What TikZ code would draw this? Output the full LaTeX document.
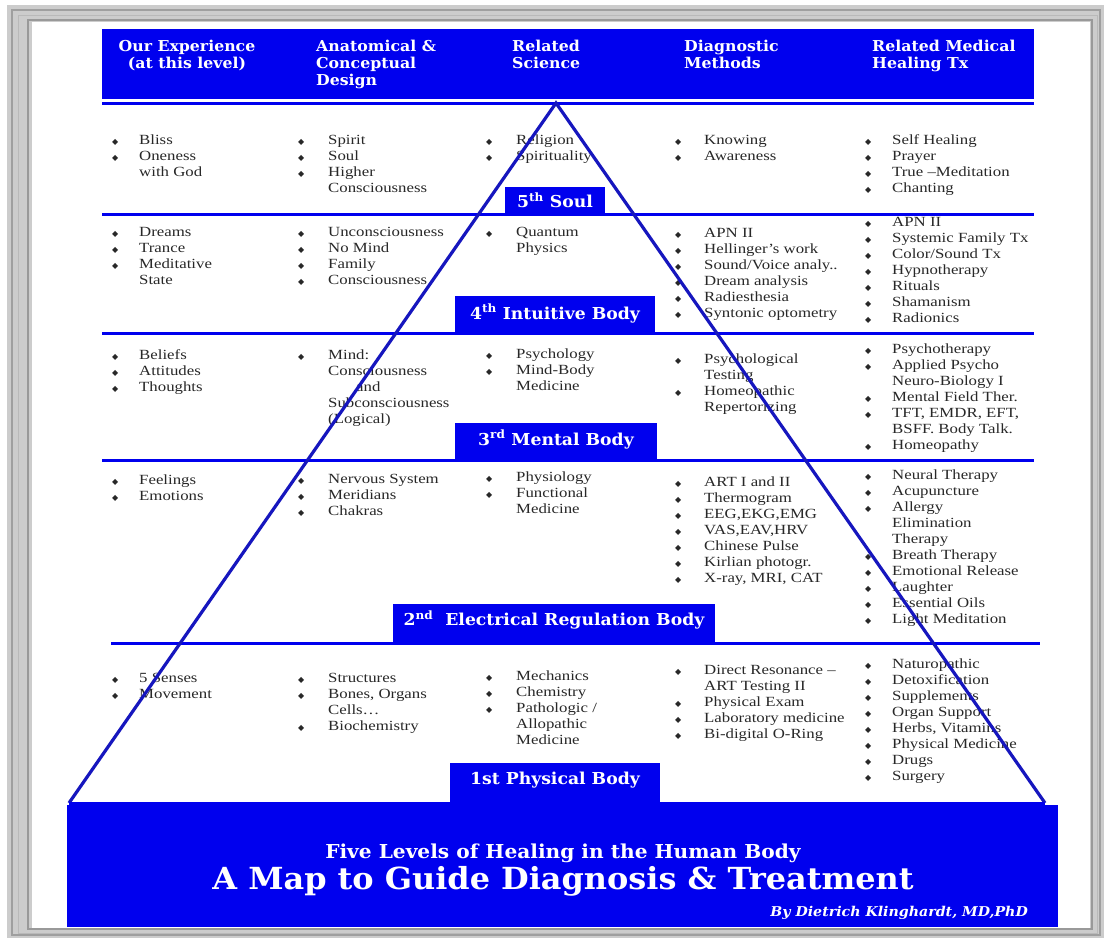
\documentclass[tikz,border=0pt]{standalone}
\usepackage{fontspec}
\setmainfont{Liberation Serif}[FakeStretch=1.2]
\newfontfamily\hdfont{DejaVu Serif}[FakeStretch=1.05]
\newfontfamily\symfont{DejaVu Sans}
\definecolor{bb}{RGB}{0,0,238}
\definecolor{tri}{RGB}{22,22,190}
\definecolor{txt}{RGB}{40,40,40}
\newcommand\bl{\raisebox{0.3pt}{\symfont\fontsize{8}{8}\selectfont ◆}}
\newcommand\itm[1]{\bl&#1\\}
\newcommand\cnt[1]{&#1\\}
\newcommand\lstbox[2]{\begin{tabular}{@{}p{#1pt}@{}l@{}}#2\end{tabular}}
\tikzset{
  lst/.style={anchor=north west, inner sep=0pt, font=\fontsize{14}{16}\selectfont, text=txt},
  hd/.style={inner sep=0pt, font=\hdfont\bfseries\fontsize{15}{17}\selectfont, text=white},
  lvltext/.style={inner sep=0pt, font=\hdfont\bfseries\fontsize{16.4}{18}\selectfont, text=white},
  sepline/.style={draw=bb, line width=3pt},
  boxfill/.style={fill=bb},
  tril/.style={draw=tri, line width=3.2pt, line join=miter}
}
\begin{document}
\begin{tikzpicture}[x=1pt,y=-1pt]
\useasboundingbox (0,0) rectangle (1106,940);
% frame
\fill[white] (0,0) rectangle (1106,940);
\fill[gray!40] (7,5) rectangle (1104,938);
\draw[gray!75, line width=1.5pt] (12,10) rectangle (1100,935);
\draw[gray!55, line width=1pt] (18,15) rectangle (1097,933);
\draw[gray!80, line width=2pt] (28,20) rectangle (1092,929);
\fill[white] (32,22) rectangle (1090,928);
% header band
\fill[boxfill] (102,29) rectangle (1034,99);
\draw[sepline] (102,103) -- (1034,103);
\node[hd, anchor=north, align=center] (h1) at (187,40) {Our Experience\\(at this level)};
\node[hd, anchor=north west, align=left] (h2) at (316,40) {Anatomical \&\\Conceptual\\Design};
\node[hd, anchor=north west, align=left] (h3) at (512,40) {Related\\Science};
\node[hd, anchor=north west, align=left] (h4) at (684,40) {Diagnostic\\Methods};
\node[hd, anchor=north west, align=left] (h5) at (872,40) {Related Medical\\Healing Tx};
% separators
\draw[sepline] (102,214) -- (1034,214);
\draw[sepline] (102,333) -- (1034,333);
\draw[sepline] (102,460) -- (1034,460);
\draw[sepline] (111,643) -- (1040,643);
% level boxes
\fill[boxfill] (505,187) rectangle (605,215);
\node[lvltext] (v5) at (555,200.5) {5\textsuperscript{th} Soul};
\fill[boxfill] (455,296) rectangle (655,334);
\node[lvltext] (v4) at (555,313.5) {4\textsuperscript{th} Intuitive Body};
\fill[boxfill] (455,423) rectangle (657,461);
\node[lvltext] (v3) at (556,439.5) {3\textsuperscript{rd} Mental Body};
\fill[boxfill] (393,604) rectangle (715,644);
\node[lvltext] (v2) at (554,620) {2\textsuperscript{nd}\ \ Electrical Regulation Body};
\fill[boxfill] (450,763) rectangle (660,804);
\node[lvltext] (v1) at (555,780) {1st Physical Body};
% title box
\fill[boxfill] (67,805) rectangle (1058,927);
\node[inner sep=0pt, text=white, font=\hdfont\bfseries\fontsize{19.2}{21}\selectfont] (t1) at (563,853) {Five Levels of Healing in the Human Body};
\node[inner sep=0pt, text=white, font=\hdfont\bfseries\fontsize{30.4}{32}\selectfont] (t2) at (563,881) {A Map to Guide Diagnosis \& Treatment};
\node[inner sep=0pt, text=white, anchor=east, font=\hdfont\bfseries\itshape\fontsize{13.5}{15}\selectfont] (t3) at (1028,913) {By Dietrich Klinghardt, MD,PhD};
% level 5
\node[lst] (a51) at (112,133) {\lstbox{27}{\itm{Bliss}\itm{Oneness}\cnt{with God}}};
\node[lst] (a52) at (298,133) {\lstbox{30}{\itm{Spirit}\itm{Soul}\itm{Higher}\cnt{Consciousness}}};
\node[lst] (a53) at (486,133) {\lstbox{30}{\itm{Religion}\itm{Spirituality}}};
\node[lst] (a54) at (675,133) {\lstbox{29}{\itm{Knowing}\itm{Awareness}}};
\node[lst] (a55) at (865,133) {\lstbox{27}{\itm{Self Healing}\itm{Prayer}\itm{True –Meditation}\itm{Chanting}}};
% level 4
\node[lst] (a41) at (112,225) {\lstbox{27}{\itm{Dreams}\itm{Trance}\itm{Meditative}\cnt{State}}};
\node[lst] (a42) at (298,225) {\lstbox{30}{\itm{Unconsciousness}\itm{No Mind}\itm{Family}\itm{Consciousness}}};
\node[lst] (a43) at (486,225) {\lstbox{30}{\itm{Quantum}\cnt{Physics}}};
\node[lst] (a44) at (675,226) {\lstbox{29}{\itm{APN II}\itm{Hellinger’s work}\itm{Sound/Voice analy..}\itm{Dream analysis}\itm{Radiesthesia}\itm{Syntonic optometry}}};
\node[lst] (a45) at (865,215) {\lstbox{27}{\itm{APN II}\itm{Systemic Family Tx}\itm{Color/Sound Tx}\itm{Hypnotherapy}\itm{Rituals}\itm{Shamanism}\itm{Radionics}}};
% level 3
\node[lst] (a31) at (112,348) {\lstbox{27}{\itm{Beliefs}\itm{Attitudes}\itm{Thoughts}}};
\node[lst] (a32) at (298,348) {\lstbox{30}{\itm{Mind:}\cnt{Consciousness}\cnt{\hspace*{28pt}and}\cnt{Subconsciousness}\cnt{(Logical)}}};
\node[lst] (a33) at (486,347) {\lstbox{30}{\itm{Psychology}\itm{Mind-Body}\cnt{Medicine}}};
\node[lst] (a34) at (675,352) {\lstbox{29}{\itm{Psychological}\cnt{Testing}\itm{Homeopathic}\cnt{Repertorizing}}};
\node[lst] (a35) at (865,342) {\lstbox{27}{\itm{Psychotherapy}\itm{Applied Psycho}\cnt{Neuro-Biology I}\itm{Mental Field Ther.}\itm{TFT, EMDR, EFT,}\cnt{BSFF. Body Talk.}\itm{Homeopathy}}};
% level 2
\node[lst] (a21) at (112,473) {\lstbox{27}{\itm{Feelings}\itm{Emotions}}};
\node[lst] (a22) at (298,472) {\lstbox{30}{\itm{Nervous System}\itm{Meridians}\itm{Chakras}}};
\node[lst] (a23) at (486,470) {\lstbox{30}{\itm{Physiology}\itm{Functional}\cnt{Medicine}}};
\node[lst] (a24) at (675,475) {\lstbox{29}{\itm{ART I and II}\itm{Thermogram}\itm{EEG,EKG,EMG}\itm{VAS,EAV,HRV}\itm{Chinese Pulse}\itm{Kirlian photogr.}\itm{X-ray, MRI, CAT}}};
\node[lst] (a25) at (865,468) {\lstbox{27}{\itm{Neural Therapy}\itm{Acupuncture}\itm{Allergy}\cnt{Elimination}\cnt{Therapy}\itm{Breath Therapy}\itm{Emotional Release}\itm{Laughter}\itm{Essential Oils}\itm{Light Meditation}}};
% level 1
\node[lst] (a11) at (112,671) {\lstbox{27}{\itm{5 Senses}\itm{Movement}}};
\node[lst] (a12) at (298,671) {\lstbox{30}{\itm{Structures}\itm{Bones, Organs}\cnt{Cells…}\itm{Biochemistry}}};
\node[lst] (a13) at (486,669) {\lstbox{30}{\itm{Mechanics}\itm{Chemistry}\itm{Pathologic /}\cnt{Allopathic}\cnt{Medicine}}};
\node[lst] (a14) at (675,663) {\lstbox{29}{\itm{Direct Resonance –}\cnt{ART Testing II}\itm{Physical Exam}\itm{Laboratory medicine}\itm{Bi-digital O-Ring}}};
\node[lst] (a15) at (865,657) {\lstbox{27}{\itm{Naturopathic}\itm{Detoxification}\itm{Supplements}\itm{Organ Support}\itm{Herbs, Vitamins}\itm{Physical Medicine}\itm{Drugs}\itm{Surgery}}};
% pyramid
\coordinate (apex) at (556,103);
\coordinate (bl) at (69,803);
\coordinate (br) at (1045,803);
\draw[tril] (bl) -- (apex) -- (br);
\draw[sepline] (bl) -- (br);
\end{tikzpicture}
\end{document}
